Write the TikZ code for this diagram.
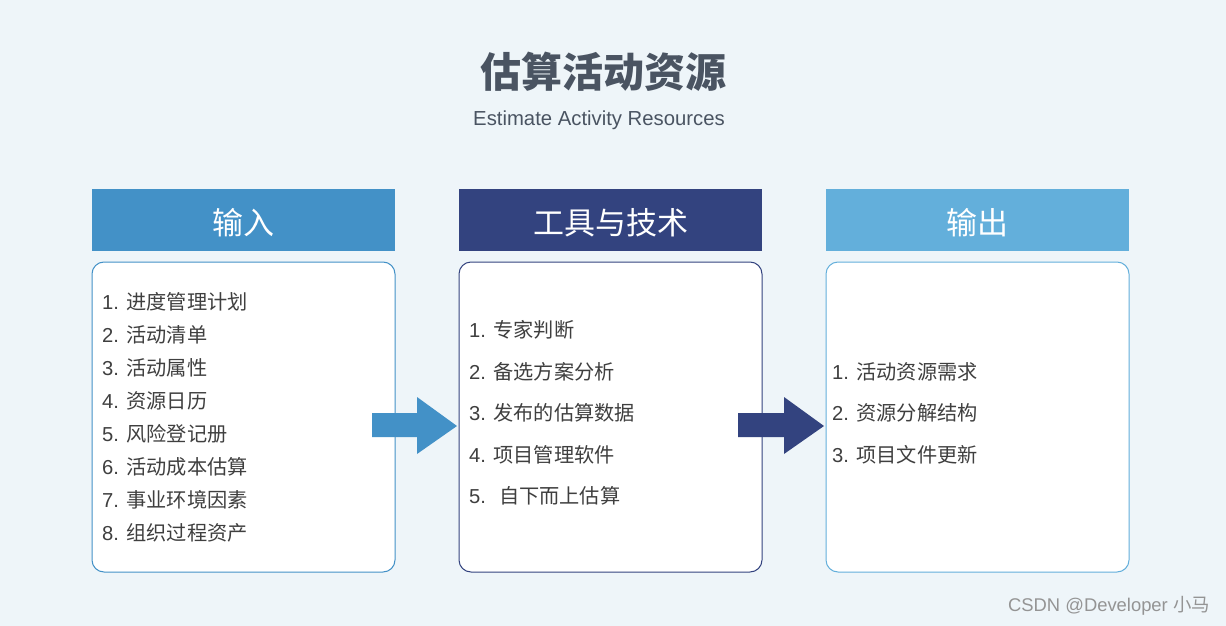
\documentclass[tikz,border=0pt]{standalone}
\usepackage{fontspec}
\setmainfont{Liberation Sans}
\newfontfamily\cjk{Noto Sans CJK SC}
\usetikzlibrary{positioning}
\definecolor{bgc}{HTML}{EEF5F9}
\definecolor{cin}{HTML}{4391C7}
\definecolor{ctool}{HTML}{33437F}
\definecolor{cout}{HTML}{63AFDB}
\definecolor{txt}{HTML}{3F3F3F}
\definecolor{ttl}{HTML}{4A5462}
\newcommand{\li}[2]{#1 {\cjk #2}}
\begin{document}
\begin{tikzpicture}[x=1pt,y=-1pt,
  hdr/.style={fill=#1, draw=none, minimum width=303pt, minimum height=62pt, inner sep=0pt},
  hdrtext/.style={inner sep=0pt, text=white, font=\cjk\fontsize{31}{36}\selectfont},
  card/.style={fill=white, draw=#1, line width=1pt, rounded corners=12pt},
  item/.style={anchor=west, inner sep=0pt, text=txt, font=\fontsize{20.2}{24}\selectfont},
  fat/.style={fill=#1, draw=none}]
\useasboundingbox (0,0) rectangle (1226,626);
\fill[bgc] (0,0) rectangle (1226,626);
% title
\node[inner sep=0pt, text=ttl, font=\cjk\bfseries\fontsize{41}{48}\selectfont] (title) at (603,72) {估算活动资源};
\node[inner sep=0pt, text=ttl, font=\fontsize{20.3}{24}\selectfont] (subtitle) at (599,120) {Estimate Activity Resources};
% headers
\node[hdr=cin] (hin) at (243.5,220) {};
\node[hdr=ctool] (htool) at (610.5,220) {};
\node[hdr=cout] (hout) at (977.5,220) {};
\node[hdrtext] (hint) at ([yshift=-2.5pt]hin.center) {输入};
\node[hdrtext] (htoolt) at ([yshift=-2.5pt]htool.center) {工具与技术};
\node[hdrtext] (houtt) at ([yshift=-2.5pt]hout.center) {输出};
% cards
\draw[card=cin] (92,262) rectangle (395,572);
\draw[card=ctool] (459,262) rectangle (762,572);
\draw[card=cout] (826,262) rectangle (1129,572);
% left list
\node[item] (i1) at (102,302) {\li{1.}{进度管理计划}};
\node[item] (i2) at (102,335) {\li{2.}{活动清单}};
\node[item] (i3) at (102,368) {\li{3.}{活动属性}};
\node[item] (i4) at (102,401) {\li{4.}{资源日历}};
\node[item] (i5) at (102,434) {\li{5.}{风险登记册}};
\node[item] (i6) at (102,467) {\li{6.}{活动成本估算}};
\node[item] (i7) at (102,500) {\li{7.}{事业环境因素}};
\node[item] (i8) at (102,533) {\li{8.}{组织过程资产}};
% middle list
\node[item] (t1) at (469,330) {\li{1.}{专家判断}};
\node[item] (t2) at (469,372) {\li{2.}{备选方案分析}};
\node[item] (t3) at (469,413) {\li{3.}{发布的估算数据}};
\node[item] (t4) at (469,455) {\li{4.}{项目管理软件}};
\node[item] (t5) at (469,496) {\li{5.\ }{自下而上估算}};
% right list
\node[item] (o1) at (832,372) {\li{1.}{活动资源需求}};
\node[item] (o2) at (832,413) {\li{2.}{资源分解结构}};
\node[item] (o3) at (832,455) {\li{3.}{项目文件更新}};
% fat arrows
\fill[fat=cin] (372,413) -- (417,413) -- (417,397) -- (457,426) -- (417,454) -- (417,437) -- (372,437) -- cycle;
\fill[fat=ctool] (738,413) -- (784,413) -- (784,397) -- (824,426) -- (784,454) -- (784,437) -- (738,437) -- cycle;
% watermark
\node[anchor=east, inner sep=0pt, text=black!42, font=\fontsize{18.4}{22}\selectfont] (wm) at (1210,606) {CSDN @Developer {\cjk 小马}};
\end{tikzpicture}
\end{document}
